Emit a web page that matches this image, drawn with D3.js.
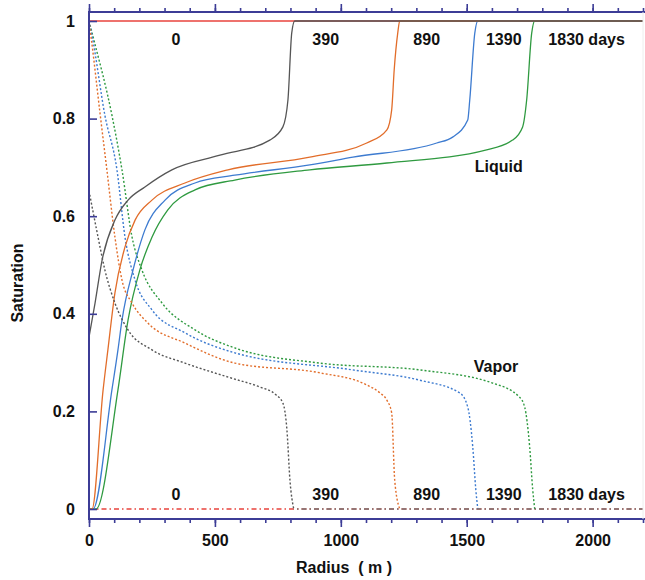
<!DOCTYPE html>
<html>
<head>
<meta charset="utf-8">
<script src="https://cdn.jsdelivr.net/npm/d3@7"></script>
<style>
body { margin: 0; background: #fff; }
text { font-family: "Liberation Sans", Arial, sans-serif; font-weight: bold; fill: #111; }
</style>
</head>
<body>
<div id="chart"></div>
<script>
// liquid saturation vs radius, [radius, saturation]
var liquid0 = [[0, 1], [2200, 1]];
var liquid390 = [[0, 0.352], [24, 0.422], [52, 0.51], [103, 0.592], [155, 0.633], [222, 0.66], [329, 0.695],
    [520, 0.725], [718, 0.756], [770, 0.783], [790, 0.838], [805, 0.975], [817, 1], [2200, 1]];
var liquid890 = [[0, 0], [12, 0], [56, 0.244], [75, 0.326], [103, 0.443], [143, 0.537], [183, 0.592], [250, 0.633],
    [381, 0.668], [552, 0.695], [877, 0.721], [1103, 0.75], [1183, 0.777], [1202, 0.818], [1212, 0.9], [1226, 0.975], [1234, 1], [2200, 1]];
var liquid1390 = [[0, 0], [16, 0], [91, 0.244], [115, 0.326], [131, 0.387], [175, 0.49], [222, 0.572], [302, 0.633],
    [421, 0.668], [579, 0.684], [877, 0.705], [1048, 0.721], [1381, 0.75], [1444, 0.762], [1504, 0.797], [1512, 0.838],
    [1532, 0.975], [1544, 1], [2200, 1]];
var liquid1830 = [[0, 0], [28, 0], [115, 0.244], [155, 0.387], [202, 0.49], [250, 0.557], [313, 0.613], [421, 0.654],
    [579, 0.674], [877, 0.695], [1183, 0.709], [1579, 0.736], [1682, 0.756], [1722, 0.783], [1738, 0.838], [1758, 0.975],
    [1770, 1], [2200, 1]];

// vapor saturation vs radius
var vapor0 = [[0, 0], [2200, 0]];
var vapor390 = [[0, 0.652], [36, 0.557], [63, 0.49], [103, 0.422], [155, 0.367], [250, 0.326], [381, 0.299], [567, 0.268],
    [678, 0.25], [740, 0.235], [770, 0.217], [786, 0.162], [798, 0.059], [813, 0], [2200, 0]];
var vapor890 = [[0, 1], [10, 0.96], [44, 0.81], [71, 0.695], [103, 0.557], [131, 0.469], [171, 0.422], [234, 0.381],
    [381, 0.34], [579, 0.299], [917, 0.279], [1100, 0.255], [1155, 0.238], [1183, 0.223], [1202, 0.197], [1214, 0.059],
    [1234, 0]];
var vapor1390 = [[0, 1], [12, 0.97], [63, 0.807], [111, 0.695], [143, 0.557], [183, 0.469], [250, 0.408], [381, 0.361],
    [579, 0.32], [1048, 0.285], [1313, 0.264], [1472, 0.238], [1504, 0.209], [1524, 0.127], [1536, 0.04], [1544, 0]];
var vapor1830 = [[0, 1], [20, 0.96], [91, 0.807], [131, 0.695], [171, 0.557], [210, 0.49], [290, 0.422], [421, 0.367],
    [579, 0.33], [917, 0.299], [1313, 0.285], [1603, 0.258], [1710, 0.229], [1730, 0.209], [1750, 0.127], [1762, 0.04],
    [1770, 0]];

var dayLabels = ["0", "390", "890", "1390", "1830 days"];
var dayLabelRadius = [345, 940, 1341, 1647, 1976];
var xTicksMajor = [0, 500, 1000, 1500, 2000];
var yTicks = [0, 0.2, 0.4, 0.6, 0.8, 1];

var colors = { d0: "#e8433c", d390: "#555555", d890: "#e26d2a", d1390: "#3d7bd0", d1830: "#2f9a40" };
var axisColor = "#3c3c96";
var dashDot = "5,3,1.5,3";

var width = 645, height = 580;

var svg = d3.select("#chart").append("svg")
    .attr("width", width)
    .attr("height", height);

var x = d3.scaleLinear().domain([0, 2200]).range([89, 643]);
var y = d3.scaleLinear().domain([0, 1]).range([509, 21]);

var line = d3.line()
    .x(d => x(d[0]))
    .y(d => y(d[1]))
    .curve(d3.curveMonotoneX);

// gray vapor: dotted curve, then dash-dot along zero beyond the front
var front390 = vapor390.findIndex(d => d[1] === 0);
var vapor390Curve = vapor390.slice(0, front390 + 1);
var vapor390Tail = vapor390.slice(front390);

// series drawn bottom to top, gray on top
var series = [
    { data: liquid0, color: colors.d0, dash: null },
    { data: vapor0, color: colors.d0, dash: dashDot },
    { data: liquid1830, color: colors.d1830, dash: null },
    { data: vapor1830, color: colors.d1830, dash: "2,2" },
    { data: liquid1390, color: colors.d1390, dash: null },
    { data: vapor1390, color: colors.d1390, dash: "2,2" },
    { data: liquid890, color: colors.d890, dash: null },
    { data: vapor890, color: colors.d890, dash: "2,2" },
    { data: liquid390, color: colors.d390, dash: null },
    { data: vapor390Curve, color: colors.d390, dash: "2,2" },
    { data: vapor390Tail, color: "#777777", dash: dashDot, offset: x(vapor390Tail[0][0]) - x(0) }
];

svg.selectAll("path.curve")
    .data(series)
    .enter().append("path")
    .attr("class", "curve")
    .attr("d", d => line(d.data))
    .attr("fill", "none")
    .attr("stroke", d => d.color)
    .attr("stroke-width", d => d.dash ? 1.4 : 1.3)
    .attr("stroke-dasharray", d => d.dash)
    .attr("stroke-dashoffset", d => d.offset || 0);

// axes
var minorX = d3.range(0, 2201, 100);

function styleAxis(g) {
    g.select(".domain").remove();
    g.selectAll(".tick line").attr("stroke", axisColor).attr("stroke-width", 1.6);
    g.selectAll(".tick text").attr("font-size", 16).attr("fill", "#111");
}

svg.append("g")
    .attr("transform", "translate(0,519)")
    .call(d3.axisBottom(x).tickValues(minorX).tickSize(4).tickFormat(""))
    .call(styleAxis);
svg.append("g")
    .attr("transform", "translate(0,519)")
    .call(d3.axisBottom(x).tickValues(xTicksMajor).tickSize(8).tickPadding(8).tickFormat(d3.format("d")))
    .call(styleAxis);

svg.append("g")
    .attr("transform", "translate(0,12)")
    .call(d3.axisTop(x).tickValues(minorX).tickSize(4).tickFormat(""))
    .call(styleAxis);
svg.append("g")
    .attr("transform", "translate(0,12)")
    .call(d3.axisTop(x).tickValues(xTicksMajor).tickSize(8).tickFormat(""))
    .call(styleAxis);

svg.append("g")
    .attr("transform", "translate(89,0)")
    .call(d3.axisLeft(y).tickValues(yTicks).tickSize(-8).tickPadding(14).tickFormat(d3.format("")))
    .call(styleAxis);

// frame lines
svg.append("line").attr("x1", 89).attr("x2", 89).attr("y1", 11).attr("y2", 520)
    .attr("stroke", axisColor).attr("stroke-width", 2);
svg.append("line").attr("x1", 88).attr("x2", 645).attr("y1", 12).attr("y2", 12)
    .attr("stroke", axisColor).attr("stroke-width", 2);
svg.append("line").attr("x1", 88).attr("x2", 645).attr("y1", 519).attr("y2", 519)
    .attr("stroke", axisColor).attr("stroke-width", 2);
svg.append("line").attr("x1", 643).attr("x2", 643).attr("y1", 12).attr("y2", 519)
    .attr("stroke", "#eeeeee").attr("stroke-width", 1);

// day labels top and bottom
svg.selectAll("text.dayTop")
    .data(dayLabels)
    .enter().append("text")
    .attr("class", "dayTop")
    .attr("x", (d, i) => x(dayLabelRadius[i]))
    .attr("y", y(0.951))
    .attr("text-anchor", "middle")
    .attr("font-size", 16)
    .text(d => d);

svg.selectAll("text.dayBottom")
    .data(dayLabels)
    .enter().append("text")
    .attr("class", "dayBottom")
    .attr("x", (d, i) => x(dayLabelRadius[i]))
    .attr("y", y(0.018))
    .attr("text-anchor", "middle")
    .attr("font-size", 16)
    .text(d => d);

svg.append("text")
    .attr("x", x(1532)).attr("y", y(0.69))
    .attr("font-size", 16)
    .text("Liquid");

svg.append("text")
    .attr("x", x(1528)).attr("y", y(0.281))
    .attr("font-size", 16)
    .text("Vapor");

// axis titles
svg.append("text")
    .attr("x", 344).attr("y", 573)
    .attr("text-anchor", "middle")
    .attr("font-size", 16)
    .style("white-space", "pre")
    .text("Radius  ( m )");

svg.append("text")
    .attr("transform", "translate(23,283) rotate(-90)")
    .attr("text-anchor", "middle")
    .attr("font-size", 16)
    .text("Saturation");
</script>
</body>
</html>
